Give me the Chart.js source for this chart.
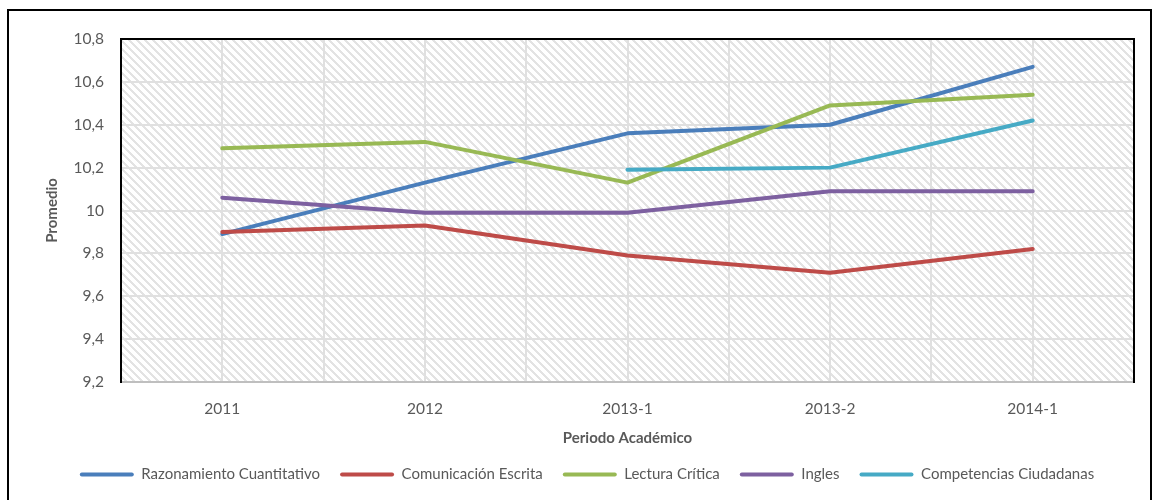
<!DOCTYPE html>
<html>
<head>
<meta charset="utf-8">
<script src="https://cdn.jsdelivr.net/npm/chart.js@4.4.1/dist/chart.umd.min.js"></script>
<style>
  html, body { margin: 0; padding: 0; background: #fff; }
  #wrap { position: relative; width: 1154px; height: 500px; overflow: hidden; }
  #frame { position: absolute; left: 7px; top: 9px; width: 1141px; height: 520px; border: 2px solid #000; }
  #chartGrafico { position: absolute; left: 0; top: 0; }
</style>
</head>
<body>
<div id="wrap">
  <div id="frame"></div>
  <canvas id="chartGrafico" width="1154" height="500"></canvas>
</div>
<script>
const periodos = ["2011", "2012", "2013-1", "2013-2", "2014-1"];

const razonamiento = [9.89, 10.13, 10.36, 10.40, 10.67];
const comunicacion = [9.90, 9.93, 9.79, 9.71, 9.82];
const lectura = [10.29, 10.32, 10.13, 10.49, 10.54];
const ingles = [10.06, 9.99, 9.99, 10.09, 10.09];
const competencias = [null, null, 10.19, 10.20, 10.42];

const yMin = 9.2;
const yMax = 10.8;
const yStep = 0.2;

// patron de rayas diagonales del area de trazado
function crearPatron() {
    const c = document.createElement("canvas");
    c.width = 8;
    c.height = 8;
    const g = c.getContext("2d");
    g.fillStyle = "#ffffff";
    g.fillRect(0, 0, 8, 8);
    g.fillStyle = "#e3e3e3";
    for (let x = 0; x < 8; x++) {
        for (let y = 0; y < 8; y++) {
            const d = ((x - y) % 8 + 8) % 8;
            if (d < 3) g.fillRect(x, y, 1, 1);
        }
    }
    return g.createPattern(c, "repeat");
}

const fondoRayado = {
    id: "fondoRayado",
    beforeDraw(chart) {
        const { ctx, chartArea } = chart;
        ctx.save();
        ctx.fillStyle = crearPatron();
        ctx.fillRect(chartArea.left, chartArea.top, chartArea.right - chartArea.left, chartArea.bottom - chartArea.top);
        ctx.restore();
    }
};

function serie(label, data, color, order) {
    return {
        label: label,
        data: data,
        borderColor: color,
        backgroundColor: color,
        borderWidth: 4,
        pointRadius: 0,
        tension: 0,
        borderCapStyle: "round",
        borderJoinStyle: "round",
        order: order
    };
}

const fuente = "Lato, 'Open Sans', sans-serif";
const gris = "#595959";

new Chart(document.getElementById("chartGrafico"), {
    type: "line",
    data: {
        labels: periodos,
        datasets: [
            serie("Razonamiento Cuantitativo", razonamiento, "#4a7ebb", 5),
            serie("Comunicación Escrita", comunicacion, "#be4b48", 4),
            serie("Lectura Crítica", lectura, "#98b954", 3),
            serie("Ingles", ingles, "#7d60a0", 2),
            serie("Competencias Ciudadanas", competencias, "#46aac5", 1)
        ]
    },
    options: {
        responsive: false,
        animation: false,
        layout: { padding: { left: 40, right: 20, top: 39, bottom: 8 } },
        plugins: {
            tooltip: { enabled: false },
            legend: {
                position: "bottom",
                labels: {
                    color: gris,
                    font: { family: fuente, size: 15 },
                    boxWidth: 54,
                    boxHeight: 4,
                    padding: 20,
                    sort: (a, b) => a.datasetIndex - b.datasetIndex,
                    generateLabels(chart) {
                        const items = Chart.defaults.plugins.legend.labels.generateLabels(chart);
                        items.forEach(it => {
                            it.fillStyle = it.strokeStyle;
                            it.lineWidth = 0;
                            it.borderRadius = 2;
                        });
                        return items;
                    }
                }
            }
        },
        scales: {
            x: {
                type: "category",
                offset: true,
                grid: { display: false, drawTicks: false },
                border: { display: true, color: "#bfbfbf", width: 2 },
                ticks: { color: gris, font: { family: fuente, size: 15.5 }, padding: 18 },
                title: {
                    display: true,
                    text: "Periodo Académico",
                    color: gris,
                    font: { family: fuente, size: 15, weight: "bold" },
                    padding: { top: 0, bottom: 0 }
                },
                afterFit(s) { s.height = 65; }
            },
            xg: {
                type: "linear",
                position: "top",
                min: -0.5,
                max: 4.5,
                grid: { color: "#e0e0e0", lineWidth: 2, drawTicks: false },
                border: { display: true, color: "#000", width: 2 },
                ticks: { display: false, stepSize: 0.5 },
                afterFit(s) { s.height = 0; }
            },
            y: {
                min: yMin,
                max: yMax,
                grid: { color: "#e0e0e0", lineWidth: 2, drawTicks: false },
                border: { display: true, color: "#000", width: 2 },
                ticks: {
                    stepSize: yStep,
                    color: gris,
                    font: { family: fuente, size: 15.5 },
                    padding: 17,
                    callback: v => String(Math.round(v * 10) / 10).replace(".", ",")
                },
                title: {
                    display: true,
                    text: "Promedio",
                    color: gris,
                    font: { family: fuente, size: 15, weight: "bold" },
                    padding: { top: 3, bottom: 0 }
                },
                afterFit(s) { s.width = 81; }
            },
            y2: {
                position: "right",
                min: yMin,
                max: yMax,
                grid: { display: false, drawTicks: false },
                border: { display: true, color: "#000", width: 2 },
                ticks: { display: false },
                afterFit(s) { s.width = 0; }
            }
        }
    },
    plugins: [fondoRayado]
});
</script>
</body>
</html>
